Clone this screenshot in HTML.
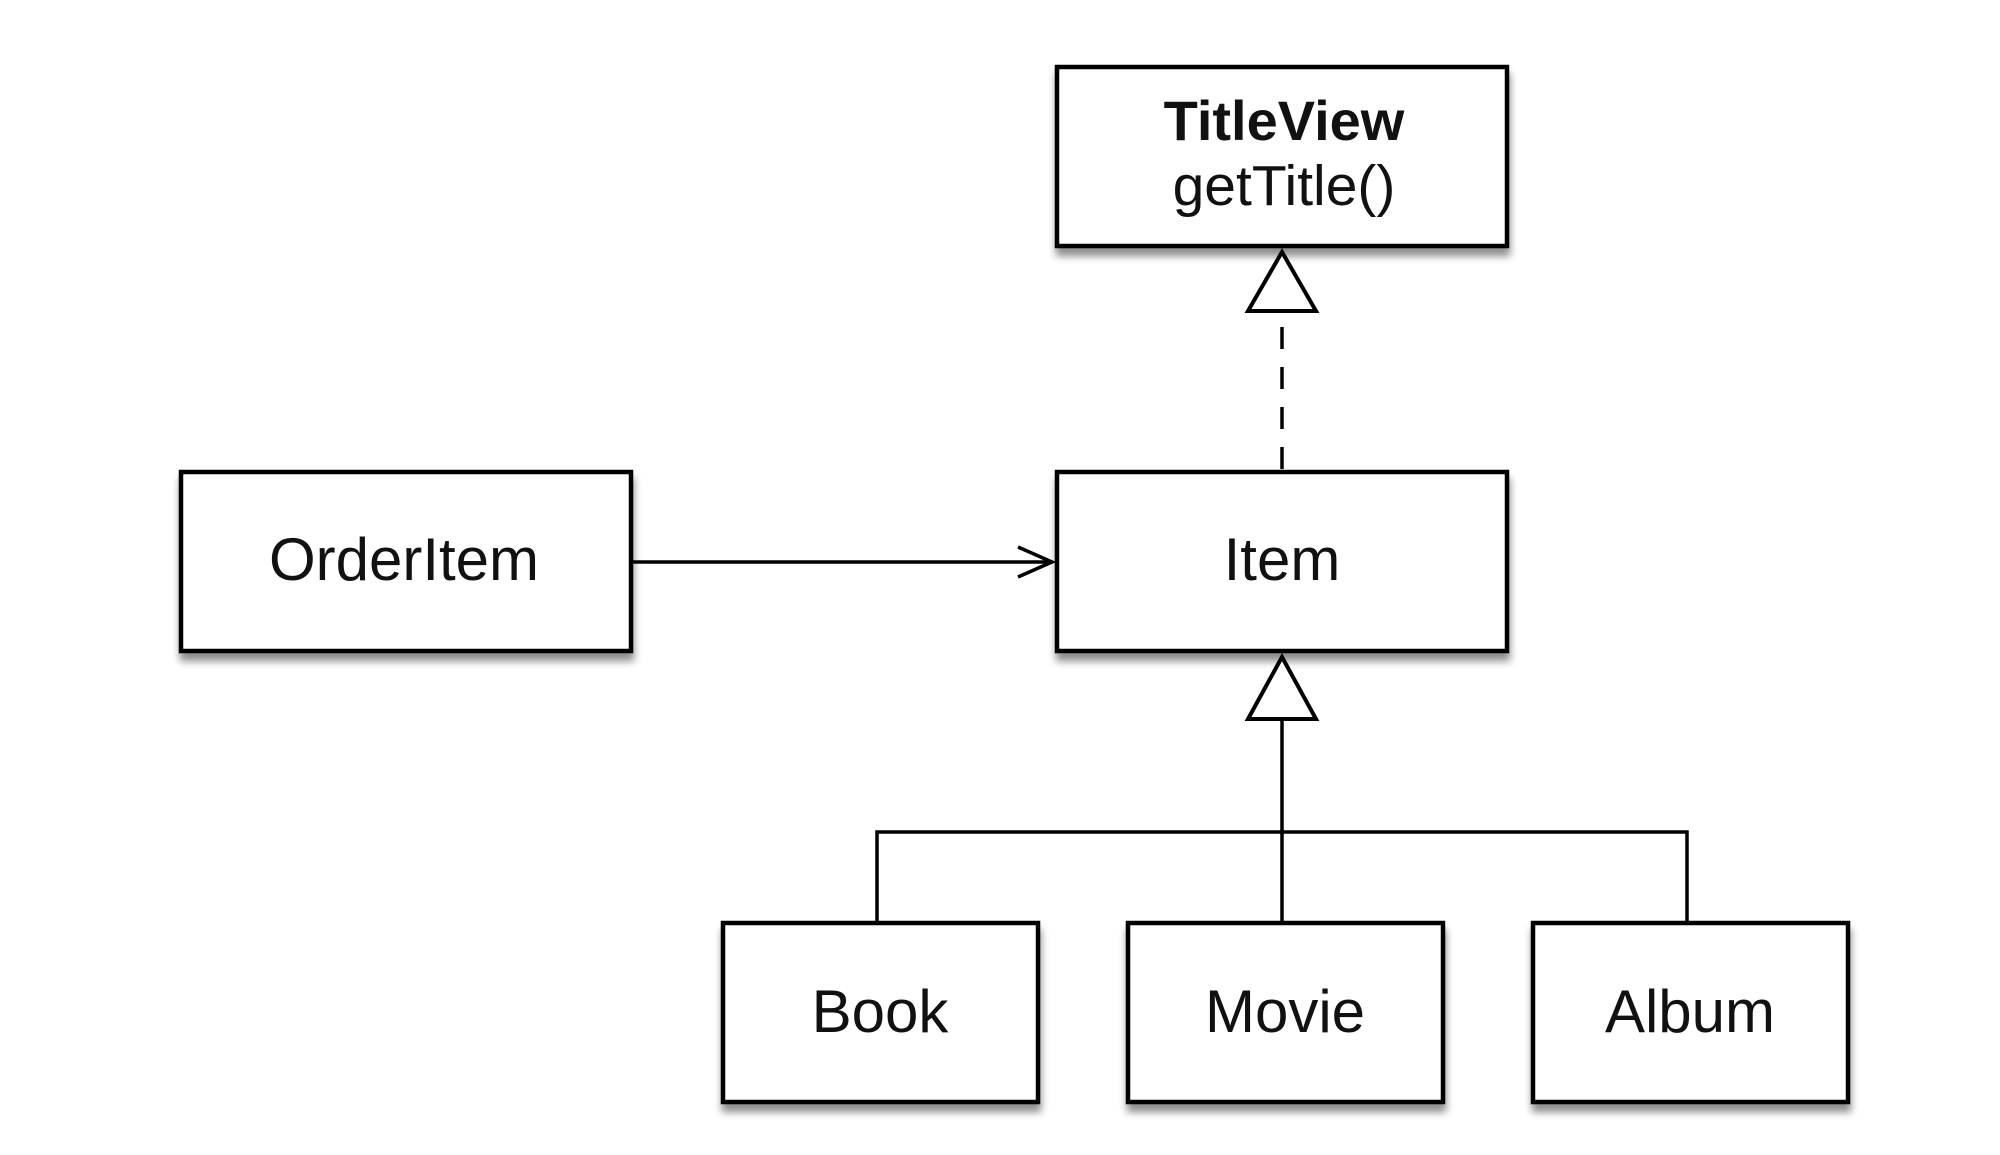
<!DOCTYPE html>
<html><head><meta charset="utf-8"><style>
body{margin:0;background:#fff;width:2000px;height:1150px;overflow:hidden}
</style></head><body>
<svg width="2000" height="1150" xmlns="http://www.w3.org/2000/svg">
<defs>
<filter id="sh" x="-10%" y="-10%" width="130%" height="140%">
<feGaussianBlur in="SourceAlpha" stdDeviation="4"/>
<feOffset dx="1" dy="8"/>
<feComponentTransfer><feFuncA type="linear" slope="0.45"/></feComponentTransfer>
<feMerge><feMergeNode/><feMergeNode in="SourceGraphic"/></feMerge>
</filter>
</defs>
<g fill="#fff" stroke="#000" stroke-width="4.5" filter="url(#sh)">
<rect x="1057" y="67" width="450" height="179"/>
<rect x="1057" y="472" width="450" height="179"/>
<rect x="181" y="472" width="450" height="179"/>
<rect x="723" y="923" width="315" height="179"/>
<rect x="1128" y="923" width="315" height="179"/>
<rect x="1533" y="923" width="315" height="179"/>
</g>
<g stroke="#000" fill="none" stroke-width="3.5">
<line x1="1282" y1="327" x2="1282" y2="472" stroke-dasharray="22 18"/>
<polygon points="1282,252 1248,311 1316,311" fill="#fff" stroke-width="4"/>
<line x1="631" y1="562" x2="1052" y2="562"/>
<polyline points="1018,547 1052,562 1018,577"/>
<polygon points="1282,657 1248,719 1316,719" fill="#fff" stroke-width="4"/>
<line x1="1282" y1="719" x2="1282" y2="923"/>
<polyline points="877,923 877,832 1687,832 1687,923"/>
</g>
<g font-family="Liberation Sans, sans-serif" font-size="60" text-anchor="middle" fill="#111">
<text x="1284" y="140" font-weight="bold" font-size="56">TitleView</text>
<text x="1284" y="205" font-size="57">getTitle()</text>
<text x="1282" y="580">Item</text>
<text x="404" y="580">OrderItem</text>
<text x="880" y="1032">Book</text>
<text x="1285" y="1032">Movie</text>
<text x="1690" y="1032">Album</text>
</g>
</svg>
</body></html>
